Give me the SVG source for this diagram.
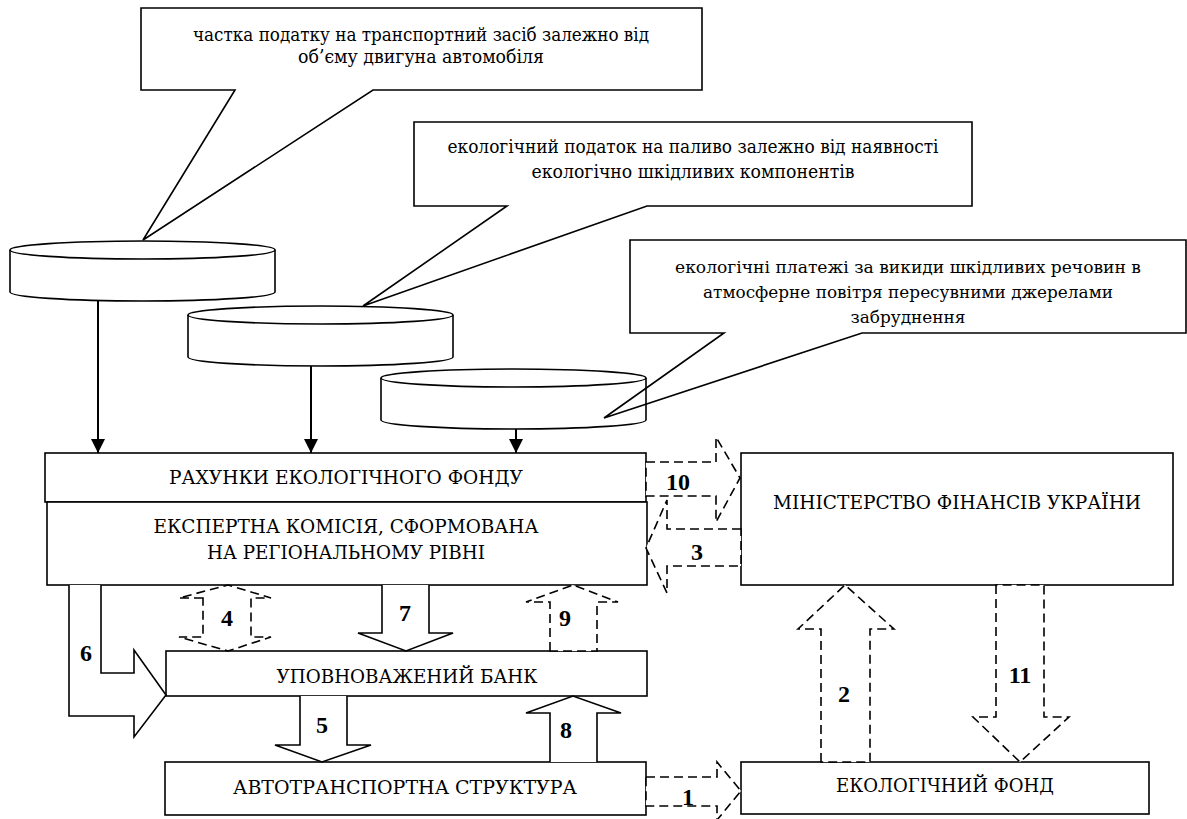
<svg xmlns="http://www.w3.org/2000/svg" width="1187" height="819" viewBox="0 0 1187 819">
<style>
.bg{fill:#fff}
.box{fill:#fff;stroke:#000;stroke-width:1.6}
.callout{fill:#fff;stroke:#000;stroke-width:1.6;stroke-linejoin:miter}
.cyl{fill:#fff;stroke:#000;stroke-width:1.6}
.cyl-open{fill:none;stroke:#000;stroke-width:1.6}
.t{font-family:"DejaVu Serif","Liberation Serif",serif;font-size:19px;fill:#000;text-anchor:middle}
.t3{font-size:17.5px}
.n{font-family:"Liberation Serif","Times New Roman",serif;font-size:24px;font-weight:bold;fill:#000;text-anchor:middle}
.solid{fill:#fff;stroke:#000;stroke-width:1.6;stroke-linejoin:miter}
.dash{fill:#fff;stroke:#000;stroke-width:1.6;stroke-dasharray:9 5;stroke-linejoin:miter}
.line{fill:none;stroke:#000;stroke-width:2}
</style>
<defs>
<marker id="ah" markerUnits="userSpaceOnUse" markerWidth="14" markerHeight="14" refX="14" refY="7" orient="auto">
<path d="M0,0 L14,7 L0,14 Z" fill="#000"/>
</marker>
</defs>
<rect class="bg" x="0" y="0" width="1187" height="819"/>

<g id="callout1">
<path class="callout" d="M141,8 H702 V90 H373 L143,240 L235,90 H141 Z"/>
<text class="t" x="421" y="41" textLength="456" lengthAdjust="spacingAndGlyphs">частка податку на транспортний засіб залежно від</text>
<text class="t" x="421" y="63" textLength="246" lengthAdjust="spacingAndGlyphs">об’єму двигуна автомобіля</text>
</g>
<g id="callout2">
<path class="callout" d="M414,122 H972 V206 H647 L363,306 L507,206 H414 Z"/>
<text class="t" x="693" y="153" textLength="491" lengthAdjust="spacingAndGlyphs">екологічний податок на паливо залежно від наявності</text>
<text class="t" x="693" y="178" textLength="323" lengthAdjust="spacingAndGlyphs">екологічно шкідливих компонентів</text>
</g>

<g id="cyl1">
<path class="cyl" d="M10,250 V292 A132.5,9 0 0 0 275,292 V250"/>
<ellipse class="cyl" cx="142.5" cy="250" rx="132.5" ry="9"/>
</g>
<g id="cyl2">
<path class="cyl" d="M188,315 V357 A132.5,9 0 0 0 453,357 V315"/>
<ellipse class="cyl" cx="320.5" cy="315" rx="132.5" ry="9"/>
</g>

<g id="callout3">
<path class="callout" d="M630,240 H1186 V333 H862 L604,418 L724,333 H630 Z"/>
<text class="t t3" x="908" y="273" textLength="466" lengthAdjust="spacingAndGlyphs">екологічні платежі за викиди шкідливих речовин в</text>
<text class="t t3" x="908" y="298" textLength="410" lengthAdjust="spacingAndGlyphs">атмосферне повітря пересувними джерелами</text>
<text class="t t3" x="908" y="323" textLength="115" lengthAdjust="spacingAndGlyphs">забруднення</text>
</g>

<g id="cyl3">
<path class="cyl-open" d="M381,378 V420 A132.5,9 0 0 0 646,420 V378"/>
<ellipse class="cyl-open" cx="513.5" cy="378" rx="132.5" ry="9"/>
</g>

<g id="rahunky">
<rect class="box" x="45" y="453" width="601" height="49"/>
<text class="t" x="346" y="484" textLength="354" lengthAdjust="spacingAndGlyphs">РАХУНКИ ЕКОЛОГІЧНОГО ФОНДУ</text>
</g>
<g id="komisiya">
<rect class="box" x="47" y="502" width="600" height="83"/>
<text class="t" x="346" y="533" textLength="385" lengthAdjust="spacingAndGlyphs">ЕКСПЕРТНА КОМІСІЯ, СФОРМОВАНА</text>
<text class="t" x="346" y="559" textLength="278" lengthAdjust="spacingAndGlyphs">НА РЕГІОНАЛЬНОМУ РІВНІ</text>
</g>
<g id="ministerstvo">
<rect class="box" x="741" y="453" width="432" height="132"/>
<text class="t" x="957" y="509" textLength="368" lengthAdjust="spacingAndGlyphs">МІНІСТЕРСТВО ФІНАНСІВ УКРАЇНИ</text>
</g>
<g id="bank">
<rect class="box" x="166" y="651" width="481" height="45"/>
<text class="t" x="407" y="683" textLength="261" lengthAdjust="spacingAndGlyphs">УПОВНОВАЖЕНИЙ БАНК</text>
</g>
<g id="avto">
<rect class="box" x="165" y="762" width="481" height="53"/>
<text class="t" x="405" y="794" textLength="344" lengthAdjust="spacingAndGlyphs">АВТОТРАНСПОРТНА СТРУКТУРА</text>
</g>
<g id="fond">
<rect class="box" x="741" y="762" width="408" height="52"/>
<text class="t" x="945" y="792" textLength="218" lengthAdjust="spacingAndGlyphs">ЕКОЛОГІЧНИЙ ФОНД</text>
</g>

<g id="connectors">
<line class="line" x1="98" y1="301" x2="98" y2="453" marker-end="url(#ah)"/>
<line class="line" x1="311" y1="366" x2="311" y2="453" marker-end="url(#ah)"/>
<line class="line" x1="516" y1="429" x2="516" y2="453" marker-end="url(#ah)"/>

<path class="dash" d="M646,462 H716 V437 L740,478 L716,522 V496 H646 Z"/>
<text class="n" x="678" y="490">10</text>
<path class="dash" d="M741,529 H667 V500 L646,548 L667,593 V566 H741 Z"/>
<text class="n" x="697" y="560">3</text>

<path class="dash" d="M203,598 H179 L228,585 L271,598 H251 V637 H271 L228,651 L179,637 H203 Z"/>
<text class="n" x="227" y="626">4</text>

<path class="solid" d="M382,585 V633 H358 L406,651 L453,633 H429 V585"/>
<text class="n" x="405" y="621">7</text>

<path class="dash" d="M550,651 V602 H526 L573,585 L618,602 H597 V651 Z"/>
<text class="n" x="565" y="626">9</text>

<path class="solid" d="M69,585 V716 H134 V737 L166,695 L134,650 V673 H101 V585"/>
<text class="n" x="86" y="661">6</text>

<path class="solid" d="M300,696 V745 H275 L322,762 L371,745 H347 V696"/>
<text class="n" x="322" y="733">5</text>

<path class="solid" d="M550,762 V713 H526 L573,696 L621,713 H597 V762"/>
<text class="n" x="566" y="738">8</text>

<path class="dash" d="M646,777 H717 V762 L741,791 L717,820 V806 H646 Z"/>
<text class="n" x="688" y="805">1</text>

<path class="dash" d="M821,762 V629 H798 L845,585 L894,629 H870 V762 Z"/>
<text class="n" x="844" y="702">2</text>

<path class="dash" d="M996,585 V717 H973 L1020,762 L1069,717 H1044 V585 Z"/>
<text class="n" x="1020" y="683">11</text>
</g>
</svg>
